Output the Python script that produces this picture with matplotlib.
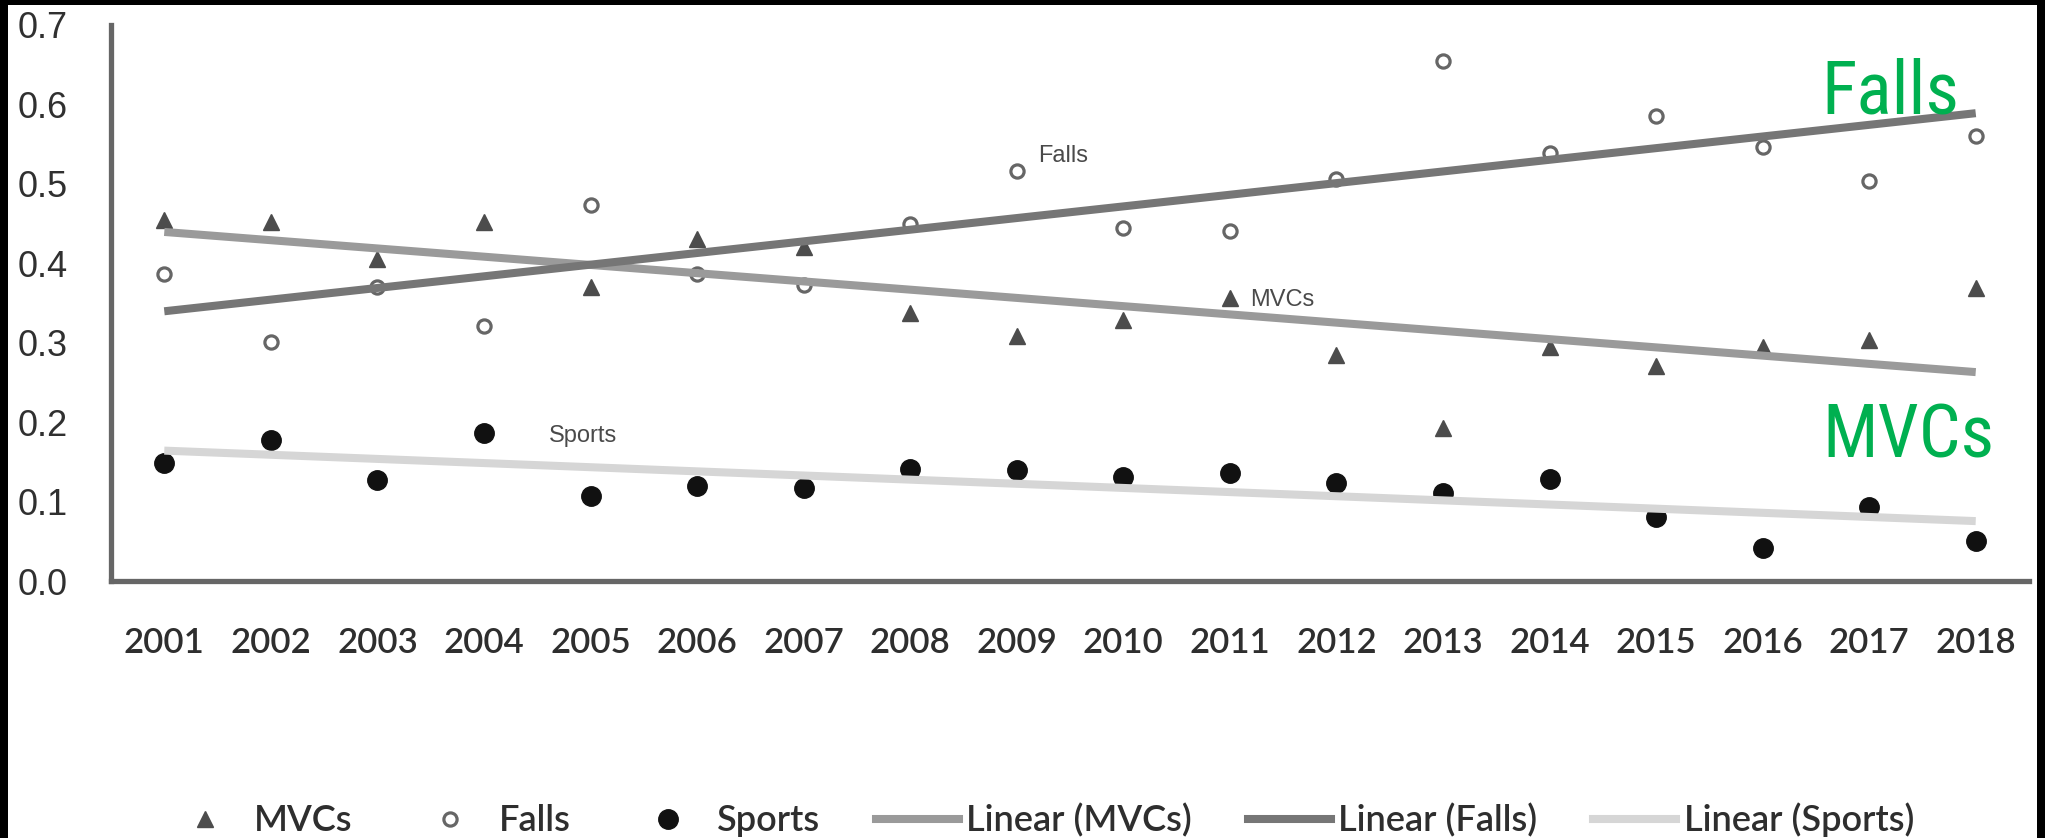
import numpy as np
import matplotlib
matplotlib.use("Agg")
import matplotlib.pyplot as plt
from matplotlib.lines import Line2D
from matplotlib.patches import Rectangle
from matplotlib import font_manager

years = list(range(2001, 2019))
mvcs = [0.454, 0.452, 0.406, 0.452, 0.370, 0.430, 0.420, 0.337, 0.308,
        0.328, 0.356, 0.284, 0.193, 0.294, 0.271, 0.294, 0.304, 0.369]
falls = [0.387, 0.301, 0.370, 0.321, 0.473, 0.387, 0.373, 0.449, 0.516,
         0.444, 0.441, 0.506, 0.655, 0.539, 0.585, 0.547, 0.503, 0.560]
sports = [0.148, 0.177, 0.127, 0.186, 0.107, 0.119, 0.117, 0.141, 0.140,
          0.131, 0.136, 0.123, 0.111, 0.128, 0.080, 0.042, 0.093, 0.050]
y_ticks = [0.0, 0.1, 0.2, 0.3, 0.4, 0.5, 0.6, 0.7]

series_names = ["MVCs", "Falls", "Sports"]
trend_names = ["Linear (MVCs)", "Linear (Falls)", "Linear (Sports)"]

W, H = 2045, 838


def _narrow_font():
    """Find a narrow sans face for the big green labels, if one is installed."""
    entries = font_manager.fontManager.ttflist
    names = {f.name for f in entries}
    for name in ("Liberation Sans Narrow", "Arial Narrow", "DejaVu Sans Condensed",
                 "Noto Sans Condensed", "Roboto Condensed", "Open Sans Condensed"):
        if name in names:
            return dict(fontfamily=name, fontsize=53)
    for f in entries:
        if (f.stretch in ("condensed", "semi-condensed")
                and f.name in ("Liberation Sans", "Noto Sans", "DejaVu Sans",
                               "Open Sans", "Roboto")
                and f.style == "normal"):
            return dict(fontfamily=f.name, fontstretch=f.stretch, fontsize=53)
    return dict(fontfamily="Liberation Sans", fontsize=46)


def main():
    fig = plt.figure(figsize=(W / 100, H / 100), dpi=100)
    fig.patch.set_facecolor("white")
    ax = fig.add_axes([111 / W, (H - 581) / H, 1918 / W, 556 / H])

    marker_styles = {
        "MVCs": dict(marker="^", ms=12, mfc="#4c4c4c", mec="#4c4c4c", ls="none"),
        "Falls": dict(marker="o", ms=9.5, mfc="white", mec="#666666", mew=2.3, ls="none"),
        "Sports": dict(marker="o", ms=14, mfc="#111111", mec="#111111", ls="none"),
    }
    trend_colors = {"MVCs": "#9a9a9a", "Falls": "#767676", "Sports": "#d6d6d6"}

    data = {"MVCs": mvcs, "Falls": falls, "Sports": sports}

    # scatter points first, trend lines drawn over them
    for name in series_names:
        ax.plot(years, data[name], zorder=2, clip_on=False, **marker_styles[name])

    x = np.array(years, dtype=float)
    for name in series_names:
        slope, intercept = np.polyfit(x, data[name], 1)
        ends = np.array([x[0], x[-1]])
        ax.plot(ends, slope * ends + intercept, color=trend_colors[name],
                lw=5.8, solid_capstyle="butt", zorder=3)

    ax.set_xlim(2000.5, 2018.5)
    ax.set_ylim(0, 0.7)
    ax.set_xticks(years)
    ax.set_xticklabels([str(y) for y in years], fontfamily="Lato",
                       fontweight="semibold", fontsize=25, color="#2e2e2e")
    ax.set_yticks(y_ticks)
    ax.set_yticklabels([f"{v:.1f}" for v in y_ticks], fontfamily="Liberation Sans",
                       fontsize=26, color="#303030")
    ax.tick_params(axis="x", length=0, pad=33)
    ax.tick_params(axis="y", length=0, pad=31)

    for side in ("top", "right"):
        ax.spines[side].set_visible(False)
    for side in ("left", "bottom"):
        ax.spines[side].set_color("#666666")
        ax.spines[side].set_linewidth(3.8)

    # data labels next to single points
    small = dict(fontfamily="Liberation Sans", fontsize=17, color="#4a4a4a",
                 va="center", ha="left")
    ax.text(2009.2, 0.535, "Falls", **small)
    ax.text(2011.19, 0.354, "MVCs", **small)
    ax.text(2004.61, 0.183, "Sports", **small)

    big = dict(color="#00b050", va="center", ha="left", **_narrow_font())
    ax.text(2016.55, 0.615, "Falls", **big)
    ax.text(2016.56, 0.181, "MVCs", **big)

    handles = [Line2D([], [], **marker_styles[n]) for n in series_names]
    handles += [Line2D([], [], color=trend_colors[n], lw=5.8) for n in series_names]
    fig.legend(handles, series_names + trend_names, loc="center",
               bbox_to_anchor=(0.508, 0.0215), ncol=6, frameon=False,
               prop={"family": "Lato", "size": 26, "weight": "semibold"},
               handlelength=2.3, handletextpad=0.2, columnspacing=1.55,
               labelcolor="#2e2e2e")

    # dark frame on left, top and right edges
    for x0, y0, w, h in [(0, 0, 8, H), (0, H - 5, W, 5), (W - 8, 0, 8, H)]:
        fig.patches.append(Rectangle((x0 / W, y0 / H), w / W, h / H,
                                     transform=fig.transFigure,
                                     facecolor="black", edgecolor="none",
                                     zorder=10))

    fig.savefig("out.png", dpi=100)


if __name__ == "__main__":
    main()
